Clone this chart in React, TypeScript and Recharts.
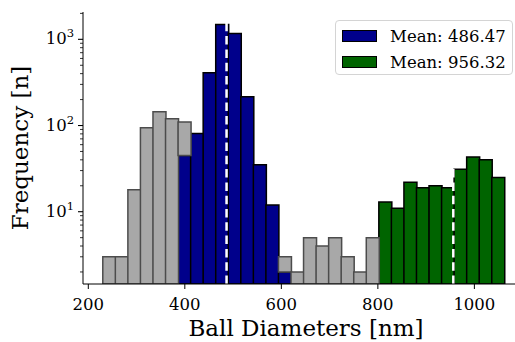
import React from "react";
import { BarChart, Bar, XAxis, YAxis, ReferenceLine, Legend, Label } from "recharts";

const FONT = '"DejaVu Serif", serif';

// histogram bins (bin centres, 26 nm wide)
const binCenters = [
  243, 269, 295, 321, 347, 373, 399, 425, 451, 477, 503, 529, 555, 581, 607, 633,
  659, 685, 711, 737, 763, 789, 815, 841, 867, 893, 919, 945, 971, 997, 1023, 1049,
];
const allCounts = [
  3, 3, 18, 94, 144, 120, 110, 81, 410, 1490, 1170, 216, 35, 12, 3, 2,
  5, 4, 5, 3, 2, 5, 13, 11, 22, 19, 20, 19, 31, 43, 40, 25,
];
const blueCounts = [
  0, 0, 0, 0, 0, 0, 45, 81, 410, 1490, 1170, 216, 35, 12, 2, 0,
  0, 0, 0, 0, 0, 0, 0, 0, 0, 0, 0, 0, 0, 0, 0, 0,
];
const greenCounts = [
  0, 0, 0, 0, 0, 0, 0, 0, 0, 0, 0, 0, 0, 0, 0, 0,
  0, 0, 0, 0, 0, 0, 13, 11, 22, 19, 20, 19, 31, 43, 40, 25,
];
const blueMean = 486.47;
const greenMean = 956.32;

const xTicks = [200, 400, 600, 800, 1000];
const yTicks = [
  2, 3, 4, 5, 6, 7, 8, 9, 10, 20, 30, 40, 50, 60, 70, 80, 90,
  100, 200, 300, 400, 500, 600, 700, 800, 900, 1000, 2000,
];

const data = binCenters.map((center, i) => ({
  center,
  blue: blueCounts[i],
  green: greenCounts[i],
  rest: allCounts[i] - blueCounts[i] - greenCounts[i],
}));

const XTick = ({ x, y, payload }: any) => (
  <text x={x} y={y + 21} textAnchor="middle" fontFamily={FONT} fontSize={16.5} fill="#000">
    {payload.value}
  </text>
);

const YTick = ({ x, y, payload }: any) => {
  const lg = Math.log10(payload.value);
  const exp = Math.round(lg);
  const major = Math.abs(lg - exp) < 1e-9;
  return (
    <g>
      <line x1={x} x2={x - (major ? 5 : 3)} y1={y} y2={y} stroke="#000" strokeWidth={major ? 1.1 : 0.8} />
      {major && (
        <text x={x - 9} y={y + 5} textAnchor="end" fontFamily={FONT} fontSize={16.5} fill="#000">
          10
          <tspan dy={-7} fontSize={11.5}>{exp}</tspan>
        </text>
      )}
    </g>
  );
};

const XLabel = ({ viewBox }: any) => (
  <text
    x={viewBox.x + viewBox.width / 2 + 4}
    y={336}
    textAnchor="middle"
    fontFamily={FONT}
    fontSize={23}
    fill="#000"
  >
    Ball Diameters [nm]
  </text>
);

const YLabel = ({ viewBox }: any) => (
  <text
    transform={`translate(28, ${viewBox.y + viewBox.height / 2}) rotate(-90)`}
    textAnchor="middle"
    fontFamily={FONT}
    fontSize={23}
    fill="#000"
  >
    Frequency [n]
  </text>
);

const LegendBox = ({ payload }: any) => (
  <div
    style={{
      background: "#fff",
      border: "1px solid #d4d4d4",
      borderRadius: 4,
      width: 178,
      height: 55,
      boxSizing: "border-box",
      padding: "2px 0 0 6px",
      fontFamily: FONT,
      fontSize: 16.5,
      color: "#000",
    }}
  >
    {(payload || [])
      .filter((p: any) => p.type !== "none" && p.dataKey !== "rest")
      .map((p: any) => (
        <div key={p.value} style={{ display: "flex", alignItems: "center", height: 26 }}>
          <span
            style={{
              display: "inline-block",
              width: 35,
              height: 12,
              boxSizing: "border-box",
              background: p.color,
              border: "1px solid #000",
              marginRight: 13,
            }}
          />
          <span>{p.value}</span>
        </div>
      ))}
  </div>
);

export default function App() {
  return (
    <div style={{ position: "absolute", left: 0, top: 0, width: 515, height: 342, overflow: "hidden", background: "#fff" }}>
      <BarChart
        width={521}
        height={342}
        data={data}
        margin={{ top: 12, right: 0, bottom: 0, left: 0 }}
        barCategoryGap={0}
        barGap={0}
      >
        <XAxis
          dataKey="center"
          type="number"
          domain={[189, 1096.6]}
          allowDataOverflow
          ticks={xTicks}
          interval={0}
          tickSize={5}
          tickMargin={0}
          stroke="#000"
          height={58}
          tick={XTick}
        >
          <Label content={XLabel} />
        </XAxis>
        <XAxis
          xAxisId="top"
          orientation="top"
          type="number"
          domain={[189, 1096.6]}
          allowDataOverflow
          height={0}
          tick={false}
          tickLine={false}
          stroke="#000"
        />
        <YAxis
          scale="log"
          domain={[1.45, 2075]}
          allowDataOverflow
          ticks={yTicks}
          interval={0}
          width={83}
          tickSize={0}
          tickMargin={0}
          tickLine={false}
          stroke="#000"
          tick={YTick}
        >
          <Label content={YLabel} />
        </YAxis>
        <Legend
          content={LegendBox}
          align="center"
          verticalAlign="middle"
          wrapperStyle={{ top: 20, left: 335, width: 178 }}
        />
        <Bar
          dataKey="blue"
          name={`Mean: ${blueMean}`}
          stackId="h"
          fill="#00008b"
          stroke="#000"
          strokeWidth={1.5}
          isAnimationActive={false}
        />
        <Bar
          dataKey="green"
          name={`Mean: ${greenMean}`}
          stackId="h"
          fill="#006400"
          stroke="#000"
          strokeWidth={1.5}
          isAnimationActive={false}
        />
        <Bar
          dataKey="rest"
          stackId="h"
          fill="#a8a8a8"
          stroke="#4c4c4c"
          strokeWidth={1.5}
          legendType="none"
          isAnimationActive={false}
        />
        <ReferenceLine x={blueMean} stroke="#fff" strokeWidth={2.5} strokeDasharray="8.5 4.8" />
        <ReferenceLine x={greenMean} stroke="#fff" strokeWidth={2.5} strokeDasharray="8.5 4.8" />
      </BarChart>
    </div>
  );
}
